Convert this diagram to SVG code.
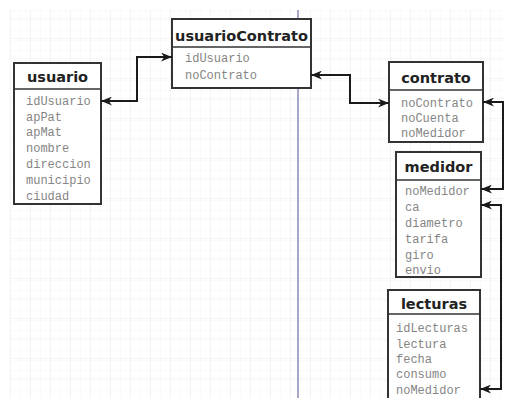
<svg xmlns="http://www.w3.org/2000/svg" width="505" height="398" viewBox="0 0 505 398">
<defs>
<pattern id="gridMinor" x="10" y="10" width="10" height="10" patternUnits="userSpaceOnUse">
<path d="M0,0 H10 M0,0 V10" fill="none" stroke="#f5f5f5" stroke-width="1"/>
</pattern>
<pattern id="gridMajor" x="10" y="18" width="20" height="20" patternUnits="userSpaceOnUse">
<path d="M0,0 H20 M0,0 V20" fill="none" stroke="#ebebeb" stroke-width="1"/>
</pattern>
<marker id="arr" viewBox="0 0 10 8" refX="10" refY="4" markerWidth="11" markerHeight="9" markerUnits="userSpaceOnUse" orient="auto-start-reverse">
<path d="M0,0 L10,4 L0,8 L3,4 z" fill="#1a1a1a"/>
</marker>
</defs>
<style>
.box{fill:#fff;stroke:#333;stroke-width:2}
.div{stroke:#333;stroke-width:1.5}
.title{font-family:"DejaVu Sans",sans-serif;font-weight:bold;font-size:14.5px;fill:#222;text-anchor:middle}
.row{font-family:"Liberation Mono",monospace;font-size:12px;fill:#858585}
.conn{fill:none;stroke:#1a1a1a;stroke-width:2;marker-start:url(#arr);marker-end:url(#arr)}
</style>
<rect width="505" height="398" fill="#fff"/>
<rect x="10" y="10" width="495" height="388" fill="url(#gridMinor)"/>
<rect x="10" y="10" width="495" height="388" fill="url(#gridMajor)"/>
<line x1="298" y1="10" x2="298" y2="398" stroke="#8a8ab8" stroke-width="1.5"/>

<g id="usuario">
<rect class="box" x="14" y="63" width="87" height="141"/>
<line class="div" x1="14" y1="89" x2="101" y2="89"/>
<text class="title" x="57.5" y="82">usuario</text>
<text class="row" x="26" y="105">idUsuario</text>
<text class="row" x="26" y="121">apPat</text>
<text class="row" x="26" y="136">apMat</text>
<text class="row" x="26" y="152">nombre</text>
<text class="row" x="26" y="168">direccion</text>
<text class="row" x="26" y="184">municipio</text>
<text class="row" x="26" y="200">ciudad</text>
</g>

<g id="usuarioContrato">
<rect class="box" x="172" y="19" width="139" height="69"/>
<line class="div" x1="172" y1="47" x2="311" y2="47"/>
<text class="title" x="241.5" y="41">usuarioContrato</text>
<text class="row" x="185" y="62">idUsuario</text>
<text class="row" x="185" y="79">noContrato</text>
</g>

<g id="contrato">
<rect class="box" x="389" y="62" width="94" height="80"/>
<line class="div" x1="389" y1="90" x2="483" y2="90"/>
<text class="title" x="436" y="83">contrato</text>
<text class="row" x="401" y="107">noContrato</text>
<text class="row" x="401" y="122">noCuenta</text>
<text class="row" x="401" y="137">noMedidor</text>
</g>

<g id="medidor">
<rect class="box" x="396" y="152" width="85" height="125"/>
<line class="div" x1="396" y1="180" x2="481" y2="180"/>
<text class="title" x="438.5" y="172">medidor</text>
<text class="row" x="405" y="195">noMedidor</text>
<text class="row" x="405" y="211">ca</text>
<text class="row" x="405" y="227">diametro</text>
<text class="row" x="405" y="243">tarifa</text>
<text class="row" x="405" y="259">giro</text>
<text class="row" x="405" y="274">envio</text>
</g>

<g id="lecturas">
<rect class="box" x="388" y="290" width="92" height="115"/>
<line class="div" x1="388" y1="314" x2="480" y2="314"/>
<text class="title" x="434" y="309">lecturas</text>
<text class="row" x="396" y="332">idLecturas</text>
<text class="row" x="396" y="348">lectura</text>
<text class="row" x="396" y="363">fecha</text>
<text class="row" x="396" y="378">consumo</text>
<text class="row" x="396" y="394">noMedidor</text>
</g>

<g id="connectors">
<path class="conn" d="M101,101 H137 V57 H172"/>
<path class="conn" d="M311,75 H350 V103 H389"/>
<path class="conn" d="M483,102 H503 V189 H481"/>
<path class="conn" d="M481,205 H501 V389 H480"/>
</g>
</svg>
